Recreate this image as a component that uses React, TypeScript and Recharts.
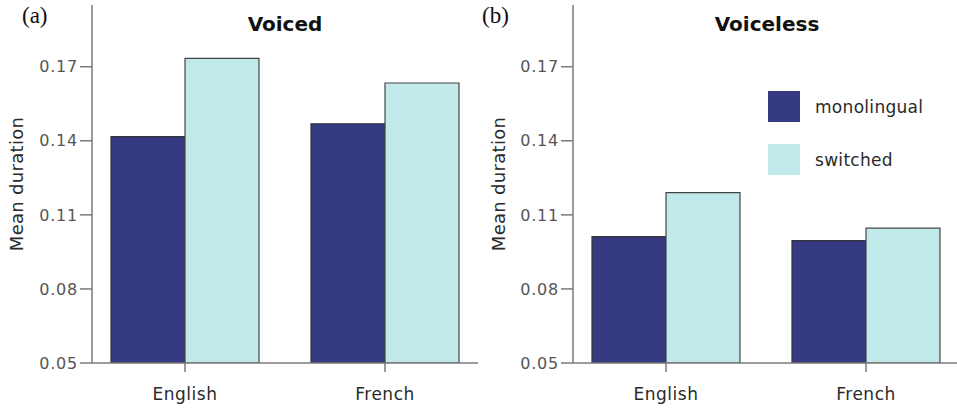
import React from 'react';
import { BarChart, Bar, XAxis, YAxis, Legend } from 'recharts';

const languages = ['English', 'French'];
const voicedMonolingual = [0.1417, 0.1469];
const voicedSwitched = [0.1734, 0.1634];
const voicelessMonolingual = [0.1012, 0.0996];
const voicelessSwitched = [0.119, 0.1046];
const yTicks = [0.05, 0.08, 0.11, 0.14, 0.17];

const MONO = '#353a82';
const SWITCHED = '#c1e9ea';
const AXIS = '#7a7a7a';
const SANS = '"DejaVu Sans", Verdana, sans-serif';

const voicedData = languages.map((lang, i) => ({
  name: lang,
  monolingual: voicedMonolingual[i],
  switched: voicedSwitched[i],
}));
const voicelessData = languages.map((lang, i) => ({
  name: lang,
  monolingual: voicelessMonolingual[i],
  switched: voicelessSwitched[i],
}));

// legend drawn from the chart payload, squares + labels stacked
function SquareLegend(props: any) {
  const { payload } = props;
  return (
    <div>
      {(payload || []).map((entry: any) => (
        <div key={entry.value} style={{ display: 'flex', alignItems: 'center', height: 53 }}>
          <div style={{ width: 32, height: 31, background: entry.color, flexShrink: 0 }} />
          <span
            style={{
              marginLeft: 15,
              fontFamily: SANS,
              fontSize: 17,
              letterSpacing: 0.3,
              color: '#2a2a2a',
            }}
          >
            {entry.value}
          </span>
        </div>
      ))}
    </div>
  );
}

function Panel({
  data,
  width,
  marginLeft,
  yWidth,
  padRight,
  showLegend,
}: {
  data: any[];
  width: number;
  marginLeft: number;
  yWidth: number;
  padRight: number;
  showLegend?: boolean;
}) {
  const marginRight = Math.max(0, width - marginLeft - yWidth - 386);
  return (
    <BarChart
      width={width}
      height={409}
      data={data}
      margin={{ top: 5, right: marginRight, bottom: 16, left: marginLeft }}
      barGap={0}
    >
      <XAxis
        dataKey="name"
        padding={{ left: -7, right: padRight }}
        axisLine={{ stroke: AXIS, strokeWidth: 1.5 }}
        tickLine={{ stroke: AXIS, strokeWidth: 1.5 }}
        tickSize={9}
        tickMargin={16}
        tick={{ fill: '#2a2a2a', fontSize: 17, fontFamily: SANS, letterSpacing: 0.5 }}
      />
      <YAxis
        width={yWidth}
        domain={[0.05, 0.195]}
        ticks={yTicks}
        allowDataOverflow
        tickFormatter={(v: number) => v.toFixed(2)}
        axisLine={{ stroke: AXIS, strokeWidth: 1.5 }}
        tickLine={{ stroke: AXIS, strokeWidth: 1.5 }}
        tickSize={12}
        tickMargin={2}
        tick={{ fill: '#555', fontSize: 16, fontFamily: SANS, letterSpacing: 0.8 }}
        label={{
          value: 'Mean duration',
          angle: -90,
          position: 'insideLeft',
          offset: 5,
          fill: '#2a2a2a',
          fontSize: 18,
          fontFamily: SANS,
          letterSpacing: 0.3,
          style: { textAnchor: 'middle' },
        }}
      />
      {showLegend && (
        <Legend
          layout="vertical"
          verticalAlign="middle"
          align="center"
          content={<SquareLegend />}
          wrapperStyle={{ left: 288, top: 80, width: 180, height: 106 }}
        />
      )}
      <Bar dataKey="monolingual" name="monolingual" fill={MONO} stroke="#333" strokeWidth={1.2} barSize={74} isAnimationActive={false} />
      <Bar dataKey="switched" name="switched" fill={SWITCHED} stroke="#444" strokeWidth={1.2} barSize={74} isAnimationActive={false} />
    </BarChart>
  );
}

export default function App() {
  const titleStyle: React.CSSProperties = {
    position: 'absolute',
    top: 12,
    fontFamily: SANS,
    fontWeight: 'bold',
    fontSize: 20,
    color: '#111',
    transform: 'translateX(-50%)',
    whiteSpace: 'nowrap',
  };
  const tagStyle: React.CSSProperties = {
    position: 'absolute',
    top: 3,
    fontFamily: '"Liberation Serif", "Times New Roman", serif',
    fontSize: 23,
    color: '#111',
  };
  return (
    <div
      style={{
        position: 'absolute',
        left: 0,
        top: 0,
        width: 957,
        height: 409,
        overflow: 'hidden',
        background: '#fff',
      }}
    >
      <div style={{ position: 'absolute', left: 0, top: 0 }}>
        <Panel data={voicedData} width={480} marginLeft={12} yWidth={80} padRight={-7} />
      </div>
      <div style={{ position: 'absolute', left: 480, top: 0 }}>
        <Panel data={voicelessData} width={477} marginLeft={14} yWidth={79} padRight={-9} showLegend />
      </div>
      <div style={{ ...titleStyle, left: 285 }}>Voiced</div>
      <div style={{ ...titleStyle, left: 767 }}>Voiceless</div>
      <div style={{ ...tagStyle, left: 22 }}>(a)</div>
      <div style={{ ...tagStyle, left: 482 }}>(b)</div>
    </div>
  );
}
